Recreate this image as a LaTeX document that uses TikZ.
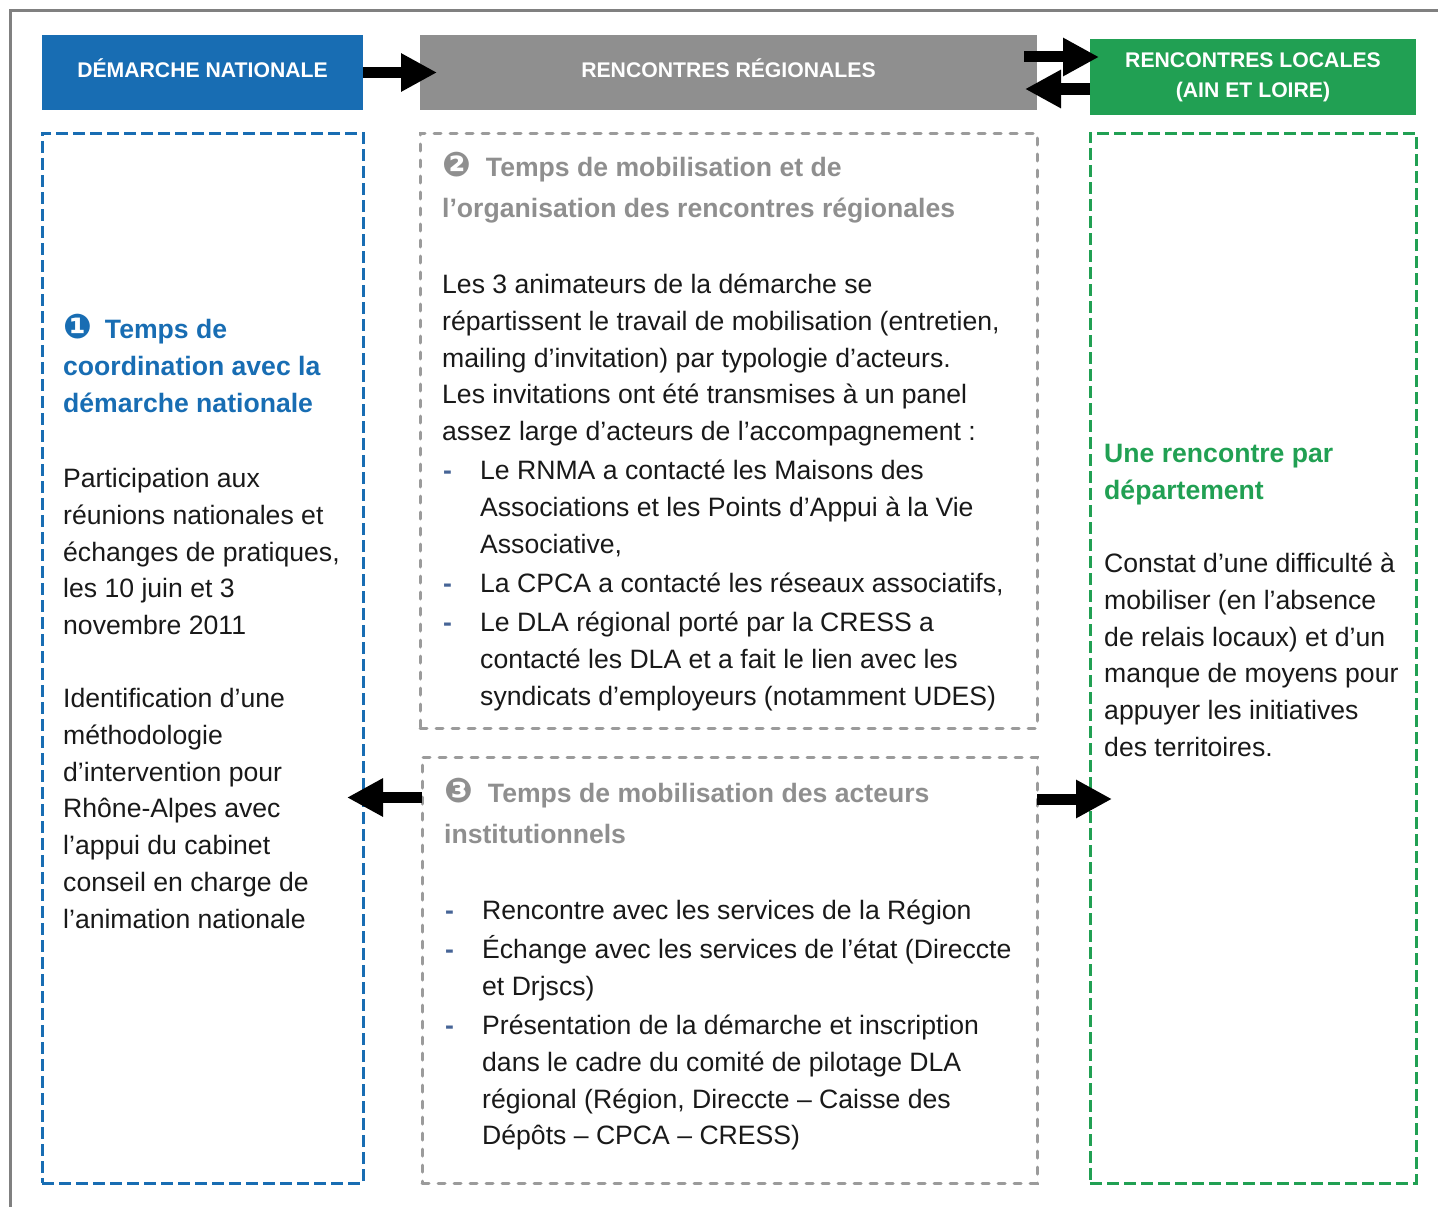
\documentclass[tikz,border=0pt]{standalone}
\usepackage{fontspec}
\setmainfont{Liberation Sans}
\newfontfamily\dingfont{DejaVu Sans}
\usetikzlibrary{arrows.meta,positioning}

\definecolor{natblue}{RGB}{24,109,179}
\definecolor{reggray}{RGB}{143,143,143}
\definecolor{dashgray}{RGB}{155,155,155}
\definecolor{locgreen}{RGB}{33,160,83}
\definecolor{framegray}{RGB}{128,128,128}
\definecolor{dashblue}{RGB}{70,100,150}

\tikzset{
  hdr/.style={inner sep=0pt, outer sep=0pt, text=white, align=center,
    font=\fontsize{21.2}{30}\selectfont\bfseries},
  dbox/.style={draw=#1, line width=3pt, dash pattern=on 12pt off 5pt,
    inner sep=0pt, outer sep=0pt},
  gbox/.style={draw=dashgray, line width=3pt, line cap=round,
    dash pattern=on 7pt off 9pt, inner sep=0pt, outer sep=0pt},
  body/.style={anchor=base west, inner sep=0pt, align=left, text=black!90,
    font=\fontsize{26.6}{36.8}\selectfont},
  ttl/.style={anchor=base west, inner sep=0pt, align=left, text=#1,
    font=\fontsize{26.6}{37}\selectfont\bfseries},
  wttl/.style={ttl=#1, font=\fontsize{26.6}{41}\selectfont\bfseries},
  dashmark/.style={anchor=base west, inner sep=0pt, text=dashblue,
    font=\fontsize{26.6}{36.8}\selectfont\bfseries},
  bigarrow/.style={line width=11pt, -{Triangle[length=36pt,width=36pt]}}
}
% multi-line nodes are placed at the baseline of their last line
\newcommand{\numdot}[1]{{\dingfont\fontsize{34}{37}\selectfont #1}}

\begin{document}
\begin{tikzpicture}[x=1pt,y=-1pt]
\useasboundingbox (0,0) rectangle (1438,1207);
\draw [framegray, line width=3pt] (10,1212) -- (10,11) -- (1442,11);

% column heads
\node [hdr, fill=natblue, minimum width=321pt, minimum height=75pt, text height=19pt, text depth=9pt] (dn) at (202.5,72.5) {DÉMARCHE NATIONALE};
\node [hdr, fill=reggray, minimum width=617pt, minimum height=75pt, text height=19pt, text depth=9pt] (rr) at (728.5,72.5) {RENCONTRES RÉGIONALES};
\node [hdr, fill=locgreen, minimum width=326pt, minimum height=76pt] (rl) at (1253,77) {\rule{0pt}{12pt}RENCONTRES LOCALES\\(AIN ET LOIRE)};

% dashed frames
\node [dbox=natblue, minimum width=321pt, minimum height=1050pt] (ln) at (202.5,658) {};
\node [gbox, minimum width=617pt, minimum height=595pt] (mt) at (728.5,430.5) {};
\node [gbox, minimum width=615pt, minimum height=426pt] (mb) at (729.5,970) {};
\node [dbox=locgreen, minimum width=326pt, minimum height=1050pt] (rg) at (1253,658) {};

% left column
\node [ttl=natblue] (t1) at (63,412) {\numdot{❶}\hspace{13pt}Temps de\\coordination avec la\\démarche nationale};
\node [body] (b1) at (63,634.7) {Participation aux\\réunions nationales et\\échanges de pratiques,\\les 10 juin et 3\\novembre 2011};
\node [body] (b2) at (63,928.3) {Identification d’une\\méthodologie\\d’intervention pour\\Rhône-Alpes avec\\l’appui du cabinet\\conseil en charge de\\l’animation nationale};

% middle column, top
\node [wttl=reggray] (t2) at (442,217) {\numdot{❷}\hspace{15pt}Temps de mobilisation et de\\l’organisation des rencontres régionales};
\node [body] (b3) at (442,440.7) {Les 3 animateurs de la démarche se\\répartissent le travail de mobilisation (entretien,\\mailing d’invitation) par typologie d’acteurs.\\Les invitations ont été transmises à un panel\\assez large d’acteurs de l’accompagnement :};
\node [dashmark] (d1) at (443,479.5) {-};
\node [body] (i1) at (480,553.1) {Le RNMA a contacté les Maisons des\\Associations et les Points d’Appui à la Vie\\Associative,};
\node [dashmark] (d2) at (443,592.5) {-};
\node [body] (i2) at (480,592.5) {La CPCA a contacté les réseaux associatifs,};
\node [dashmark] (d3) at (443,631.5) {-};
\node [body] (i3) at (480,705.1) {Le DLA régional porté par la CRESS a\\contacté les DLA et a fait le lien avec les\\syndicats d’employeurs (notamment UDES)};

% middle column, bottom
\node [wttl=reggray] (t3) at (444,843.5) {\numdot{❸}\hspace{15pt}Temps de mobilisation des acteurs\\institutionnels};
\node [dashmark] (d4) at (445,919.5) {-};
\node [body] (i4) at (482,919.5) {Rencontre avec les services de la Région};
\node [dashmark] (d5) at (445,958.5) {-};
\node [body] (i5) at (482,995.3) {Échange avec les services de l’état (Direccte\\et Drjscs)};
\node [dashmark] (d6) at (445,1034.5) {-};
\node [body] (i6) at (482,1144.9) {Présentation de la démarche et inscription\\dans le cadre du comité de pilotage DLA\\régional (Région, Direccte – Caisse des\\Dépôts – CPCA – CRESS)};

% right column
\node [ttl=locgreen] (t4) at (1104,499.5) {Une rencontre par\\département};
\node [body] (b4) at (1104,756.5) {Constat d’une difficulté à\\mobiliser (en l’absence\\de relais locaux) et d’un\\manque de moyens pour\\appuyer les initiatives\\des territoires.};

% arrows
\coordinate (lvl) at (0,797.5);
\coordinate (rvl) at (0,799);
\draw [bigarrow] (dn.east) -- ([xshift=17pt]rr.west);
\draw [bigarrow] ([xshift=-13pt,yshift=15.5pt]rr.east) -- ([xshift=9pt,yshift=20pt]rl.west);
\draw [bigarrow] ([yshift=-12pt]rl.west) -- ([xshift=-12pt,yshift=-16.5pt]rr.east);
\draw [bigarrow] (mb.west |- lvl) -- ([xshift=-16pt]ln.east |- lvl);
\draw [bigarrow] (mb.east |- rvl) -- ([xshift=22pt]rg.west |- rvl);
\end{tikzpicture}
\end{document}
